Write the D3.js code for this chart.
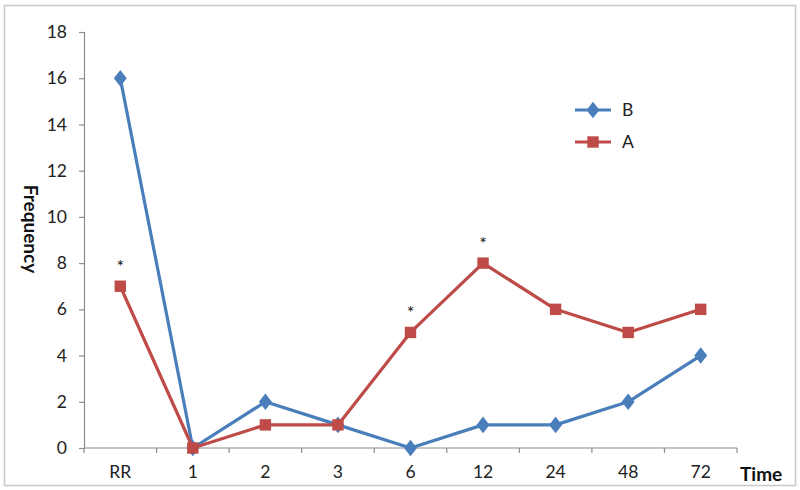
<!DOCTYPE html>
<html><head><meta charset="utf-8">
<script src="https://cdn.jsdelivr.net/npm/d3@7"></script>
<style>body{margin:0;background:#fff;} svg{display:block;}</style>
</head><body>
<svg id="chart" width="800" height="490"></svg>
<script>
const categories = ["RR","1","2","3","6","12","24","48","72"];
const seriesB = [16,0,2,1,0,1,1,2,4];
const seriesA = [7,0,1,1,5,8,6,5,6];
const yTicks = [0,2,4,6,8,10,12,14,16,18];
const starCats = ["RR","6","12"];
const starVals = [7,5,8];

const svg = d3.select("#chart");
const W = 800, H = 490;
const m = {left:84, right:63, top:32, bottom:42};
const font = "Lato, 'Open Sans', sans-serif";
const fs = 17.5;

svg.append("rect").attr("x",4.5).attr("y",5.5).attr("width",791).attr("height",480)
  .attr("fill","#fff").attr("stroke","#c8c8c8").attr("stroke-width",1.5);

const x = d3.scaleBand().domain(categories).range([m.left, W-m.right]);
const y = d3.scaleLinear().domain([0,18]).range([H-m.bottom, m.top]);

const yAxis = svg.append("g").attr("transform",`translate(${m.left},0)`)
  .call(d3.axisLeft(y).tickValues(yTicks).tickSize(5).tickPadding(12));
const xAxis = svg.append("g").attr("transform",`translate(0,${H-m.bottom})`)
  .call(d3.axisBottom(x).tickSize(0).tickPadding(18));
const bounds = categories.map(c=>x(c)).concat([x(categories[categories.length-1])+x.bandwidth()]);
xAxis.selectAll(".bt").data(bounds).enter().append("line").attr("class","bt")
  .attr("x1",d=>d).attr("x2",d=>d).attr("y1",0).attr("y2",5)
  .attr("stroke","#8c8c8c").attr("stroke-width",1.2);
[yAxis,xAxis].forEach(g=>{
  g.select(".domain").attr("stroke","#8c8c8c").attr("stroke-width",1.2);
  g.selectAll(".tick line").attr("stroke","#8c8c8c").attr("stroke-width",1.2);
  g.selectAll("text").attr("font-family",font).attr("font-size",fs).attr("fill","#222");
});
xAxis.select(".domain").attr("d",`M${m.left},0H${W-m.right}`);

svg.append("text").attr("x",740).attr("y",481).attr("font-family",font)
  .attr("font-size",19).attr("font-weight","bold").attr("fill","#111").text("Time");
svg.append("text").attr("transform","translate(24,229) rotate(90)")
  .attr("text-anchor","middle").attr("font-family",font)
  .attr("font-size",19).attr("font-weight","bold").attr("fill","#111").text("Frequency");

const cx = c => x(c) + x.bandwidth()/2;
const line = d3.line().x((d,i)=>cx(categories[i])).y(d=>y(d));
const blue = "#4a7ebb", red = "#be4b48";

function drawSeries(data,color,shape){
  svg.append("path").datum(data).attr("d",line).attr("fill","none")
    .attr("stroke",color).attr("stroke-width",3.2).attr("stroke-linejoin","round");
  const sym = d3.symbol().type(shape).size(shape===d3.symbolSquare?130:110);
  svg.selectAll(null).data(data).enter().append("path")
    .attr("d",sym).attr("fill",color)
    .attr("transform",(d,i)=>`translate(${cx(categories[i])},${y(d)})${shape===d3.symbolDiamond?" scale(1.15,0.85)":""}`);
}
drawSeries(seriesB,blue,d3.symbolDiamond);
drawSeries(seriesA,red,d3.symbolSquare);

svg.selectAll(null).data(starCats).enter().append("text")
  .attr("x",c=>cx(c)).attr("y",(c,i)=>y(starVals[i])-13)
  .attr("text-anchor","middle").attr("font-family",font).attr("font-size",18).attr("fill","#111").text("*");

const legend = [{name:"B",color:blue,shape:d3.symbolDiamond},{name:"A",color:red,shape:d3.symbolSquare}];
legend.forEach((l,i)=>{
  const ly = 110 + i*32;
  svg.append("line").attr("x1",575).attr("x2",611).attr("y1",ly).attr("y2",ly)
    .attr("stroke",l.color).attr("stroke-width",3.2);
  svg.append("path").attr("d",d3.symbol().type(l.shape).size(l.shape===d3.symbolSquare?130:110))
    .attr("fill",l.color).attr("transform",`translate(593,${ly})${l.shape===d3.symbolDiamond?" scale(1.15,0.85)":""}`);
  svg.append("text").attr("x",622).attr("y",ly+6).attr("font-family",font)
    .attr("font-size",fs).attr("fill","#222").text(l.name);
});
</script>
</body></html>
